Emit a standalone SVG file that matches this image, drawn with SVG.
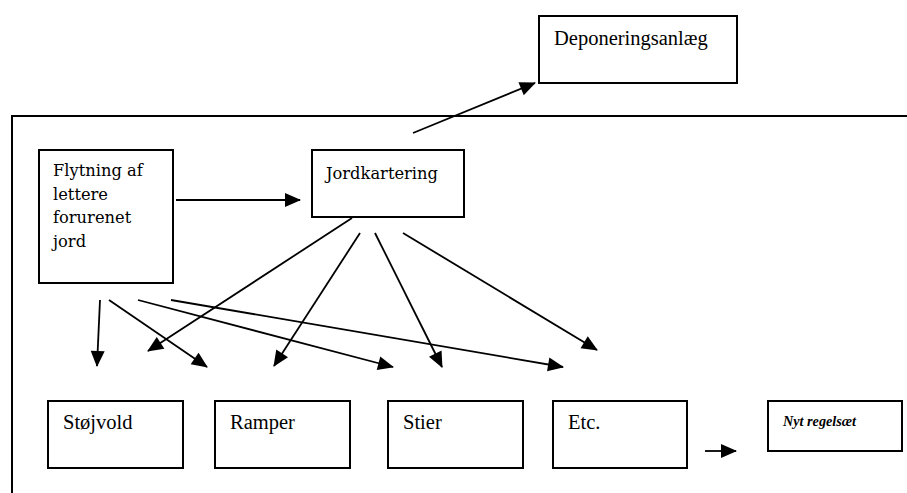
<svg xmlns="http://www.w3.org/2000/svg" width="907" height="493" viewBox="0 0 907 493">
<style>
.box{fill:#fff;stroke:#000;stroke-width:2}
.e{stroke:#000;stroke-width:1.8;fill:none;marker-end:url(#ah)}
.frame{stroke:#000;stroke-width:2;fill:none}
</style>
<defs>
<marker id="ah" markerUnits="userSpaceOnUse" markerWidth="16" markerHeight="14" refX="15" refY="7" orient="auto" overflow="visible">
<path d="M0,0 L16,7 L0,14 z" fill="#000"/>
</marker>
</defs>
<rect width="907" height="493" fill="#fff"/>
<path class="frame" d="M12,493 L12,116 L907,116"/>
<g id="deponering"><rect class="box" x="539" y="16" width="198" height="67"/><text font-family="Liberation Serif, Times New Roman, serif" font-size="20.5" x="554" y="45">Deponeringsanlæg</text></g>
<g id="flytning" font-family="DejaVu Serif, serif" font-size="16.3"><rect class="box" x="39" y="150" width="134" height="133"/>
<text x="53" y="176">Flytning af</text>
<text x="53" y="200">lettere</text>
<text x="53" y="223">forurenet</text>
<text x="53" y="247">jord</text></g>
<g id="jordkartering"><rect class="box" x="312" y="150" width="152" height="67"/><text font-family="DejaVu Serif, serif" font-size="16.3" x="326" y="179">Jordkartering</text></g>
<g id="stoejvold" font-family="Liberation Serif, Times New Roman, serif" font-size="20.5"><rect class="box" x="48" y="401" width="135" height="67"/><text x="63" y="429">Støjvold</text></g>
<g id="ramper" font-family="Liberation Serif, Times New Roman, serif" font-size="20.5"><rect class="box" x="215" y="401" width="135" height="67"/><text x="230" y="429">Ramper</text></g>
<g id="stier" font-family="Liberation Serif, Times New Roman, serif" font-size="20.5"><rect class="box" x="388" y="401" width="135" height="67"/><text x="403" y="429">Stier</text></g>
<g id="etc" font-family="Liberation Serif, Times New Roman, serif" font-size="20.5"><rect class="box" x="553" y="401" width="134" height="67"/><text x="568" y="429">Etc.</text></g>
<g id="nyt"><rect class="box" x="768" y="401" width="134" height="50"/><text font-family="Liberation Serif, Times New Roman, serif" font-size="15" font-weight="bold" font-style="italic" x="783" y="426" textLength="73" lengthAdjust="spacingAndGlyphs">Nyt regelsæt</text></g>
<g id="connectors">
<line class="e" x1="413" y1="133" x2="535" y2="83"/>
<line class="e" x1="176" y1="200" x2="300" y2="200"/>
<line class="e" x1="352" y1="218" x2="148" y2="351"/>
<line class="e" x1="360" y1="233" x2="274" y2="366"/>
<line class="e" x1="375" y1="233" x2="442" y2="367"/>
<line class="e" x1="403" y1="233" x2="597" y2="350"/>
<line class="e" x1="100" y1="300" x2="97" y2="366"/>
<line class="e" x1="109" y1="300" x2="207" y2="367"/>
<line class="e" x1="138" y1="300" x2="393" y2="367"/>
<line class="e" x1="171" y1="300" x2="563" y2="367"/>
<line class="e" x1="705" y1="451" x2="736" y2="451"/>
</g>
</svg>
